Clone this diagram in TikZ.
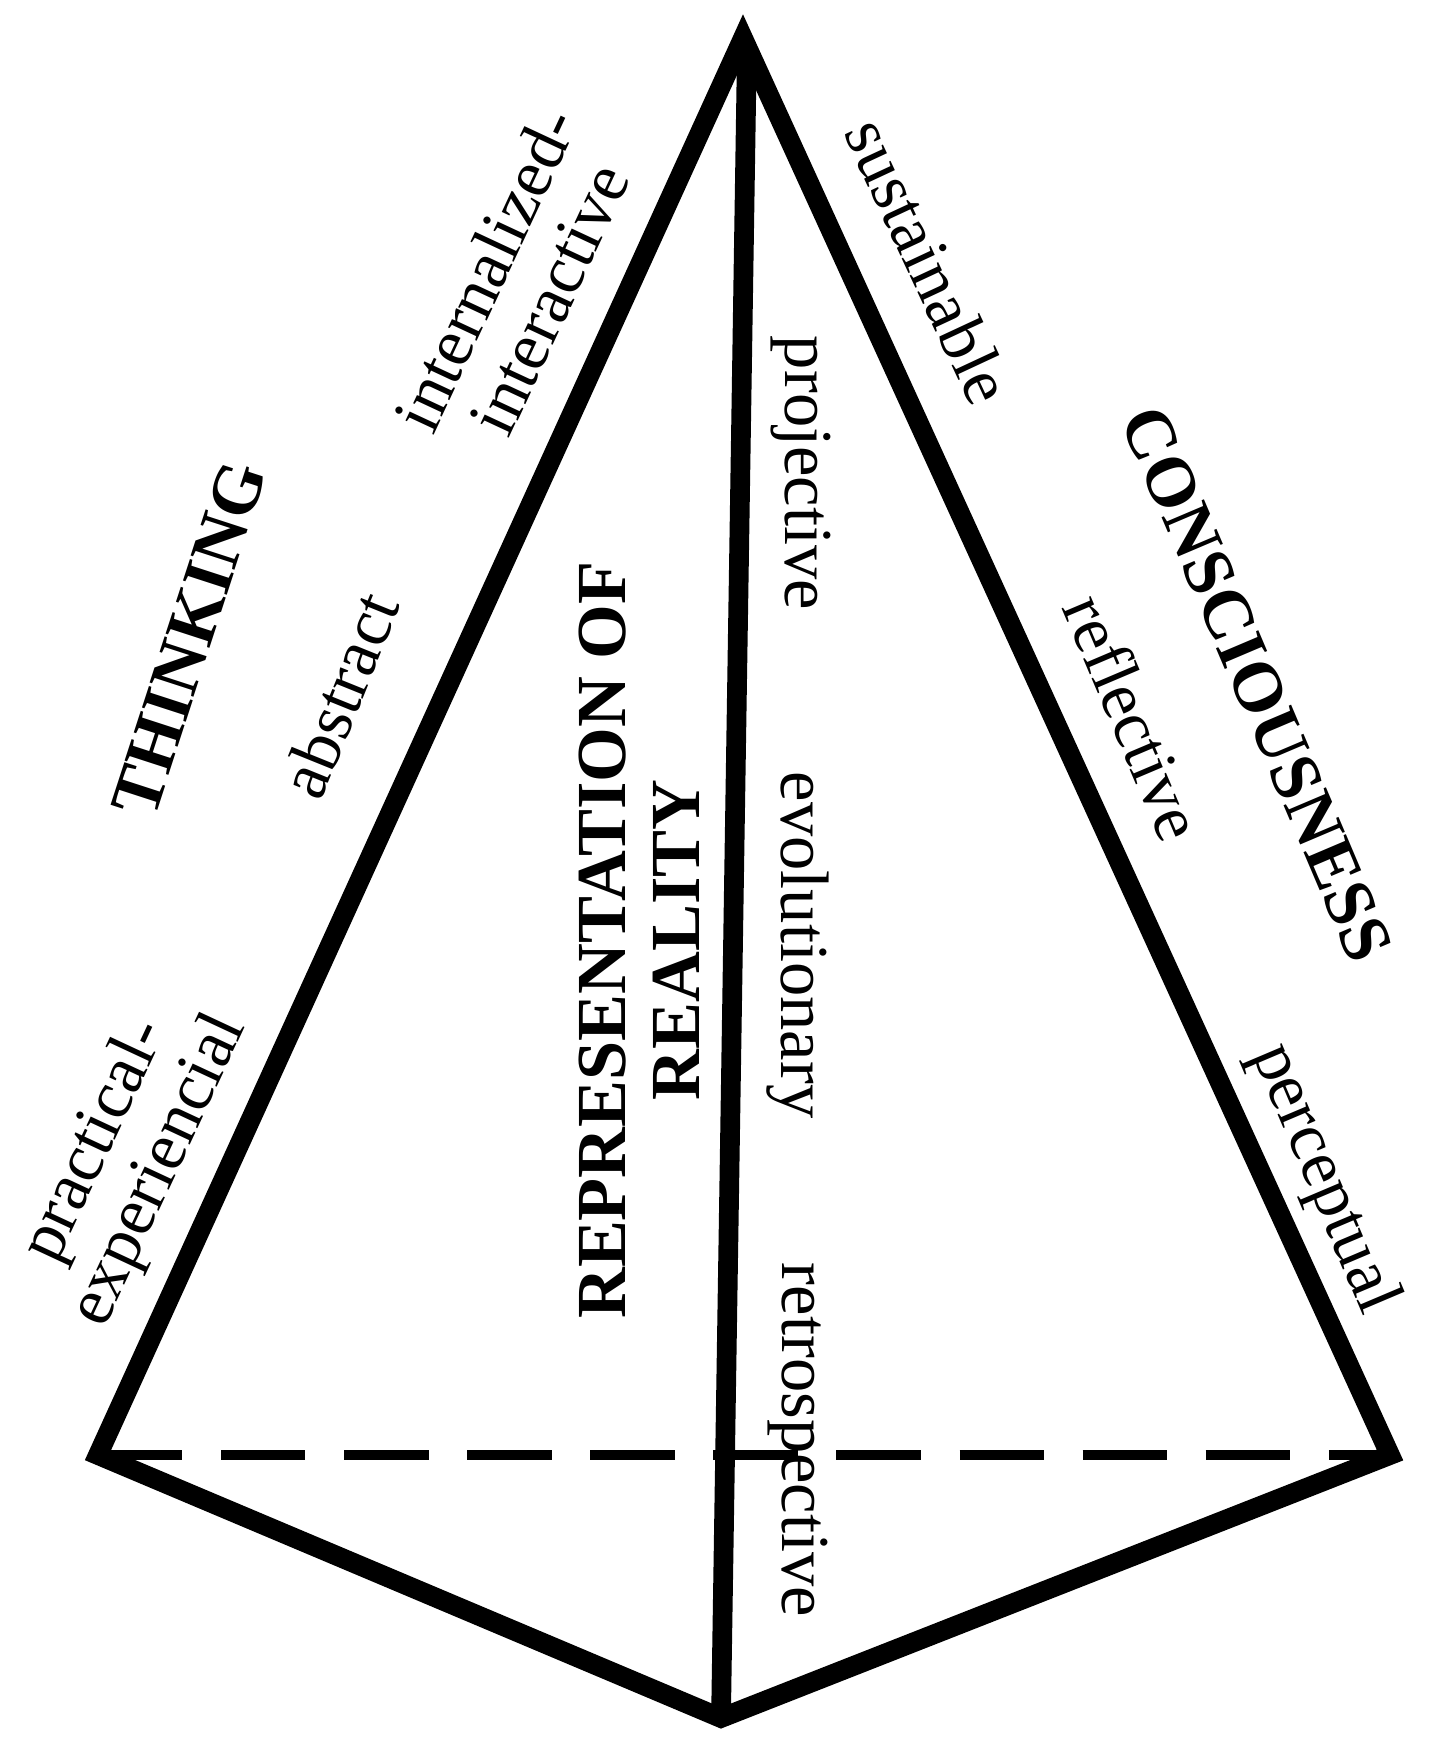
\documentclass[tikz,border=0pt]{standalone}
\usepackage{fontspec}
\setmainfont{Liberation Serif}
\begin{document}
\begin{tikzpicture}[x=0.01cm,y=-0.01cm,
  edge/.style={line width=5.6pt,line join=miter},
  lbl/.style={font=\fontsize{19.5}{20}\selectfont,align=center,inner sep=0pt},
  big/.style={font=\fontsize{20}{21}\selectfont\bfseries,align=center,inner sep=0pt}]
\useasboundingbox (0,0) rectangle (1446,1756);
\coordinate (A) at (743,38);
\coordinate (L) at (98,1455);
\coordinate (R) at (1390,1455);
\coordinate (B) at (721,1718);
\coordinate (Atop) at (747,45);
\draw[edge] (L) -- (A) -- (R) -- (B) -- cycle;
\draw[edge] (Atop) -- (B);
\draw[line width=3pt,dash pattern=on 24pt off 11pt] (L) -- (R);
\node[big,rotate=72] (thinking) at (189,639) {THINKING};
\node[lbl,rotate=68] (abstract) at (339,695) {abstract};
\node[lbl,rotate=65] (intint) at (517,284) {internalized-\\interactive};
\node[lbl,rotate=65] (pracexp) at (128,1156) {practical-\\experiencial};
\node[lbl,rotate=-65] (sust) at (929,261) {sustainable};
\node[big,rotate=-67] (cons) at (1257,684) {CONSCIOUSNESS};
\node[lbl,rotate=-67] (refl) at (1134,717) {reflective};
\node[lbl,rotate=-67] (perc) at (1323,1179) {perceptual};
\node[big,rotate=90] (repr) at (639,940) {REPRESENTATION OF\\REALITY};
\node[lbl,rotate=-90] (proj) at (801,473) {projective};
\node[lbl,rotate=-90] (evol) at (798,945) {evolutionary};
\node[lbl,rotate=-90] (retro) at (798,1440) {retrospective};
\end{tikzpicture}
\end{document}
